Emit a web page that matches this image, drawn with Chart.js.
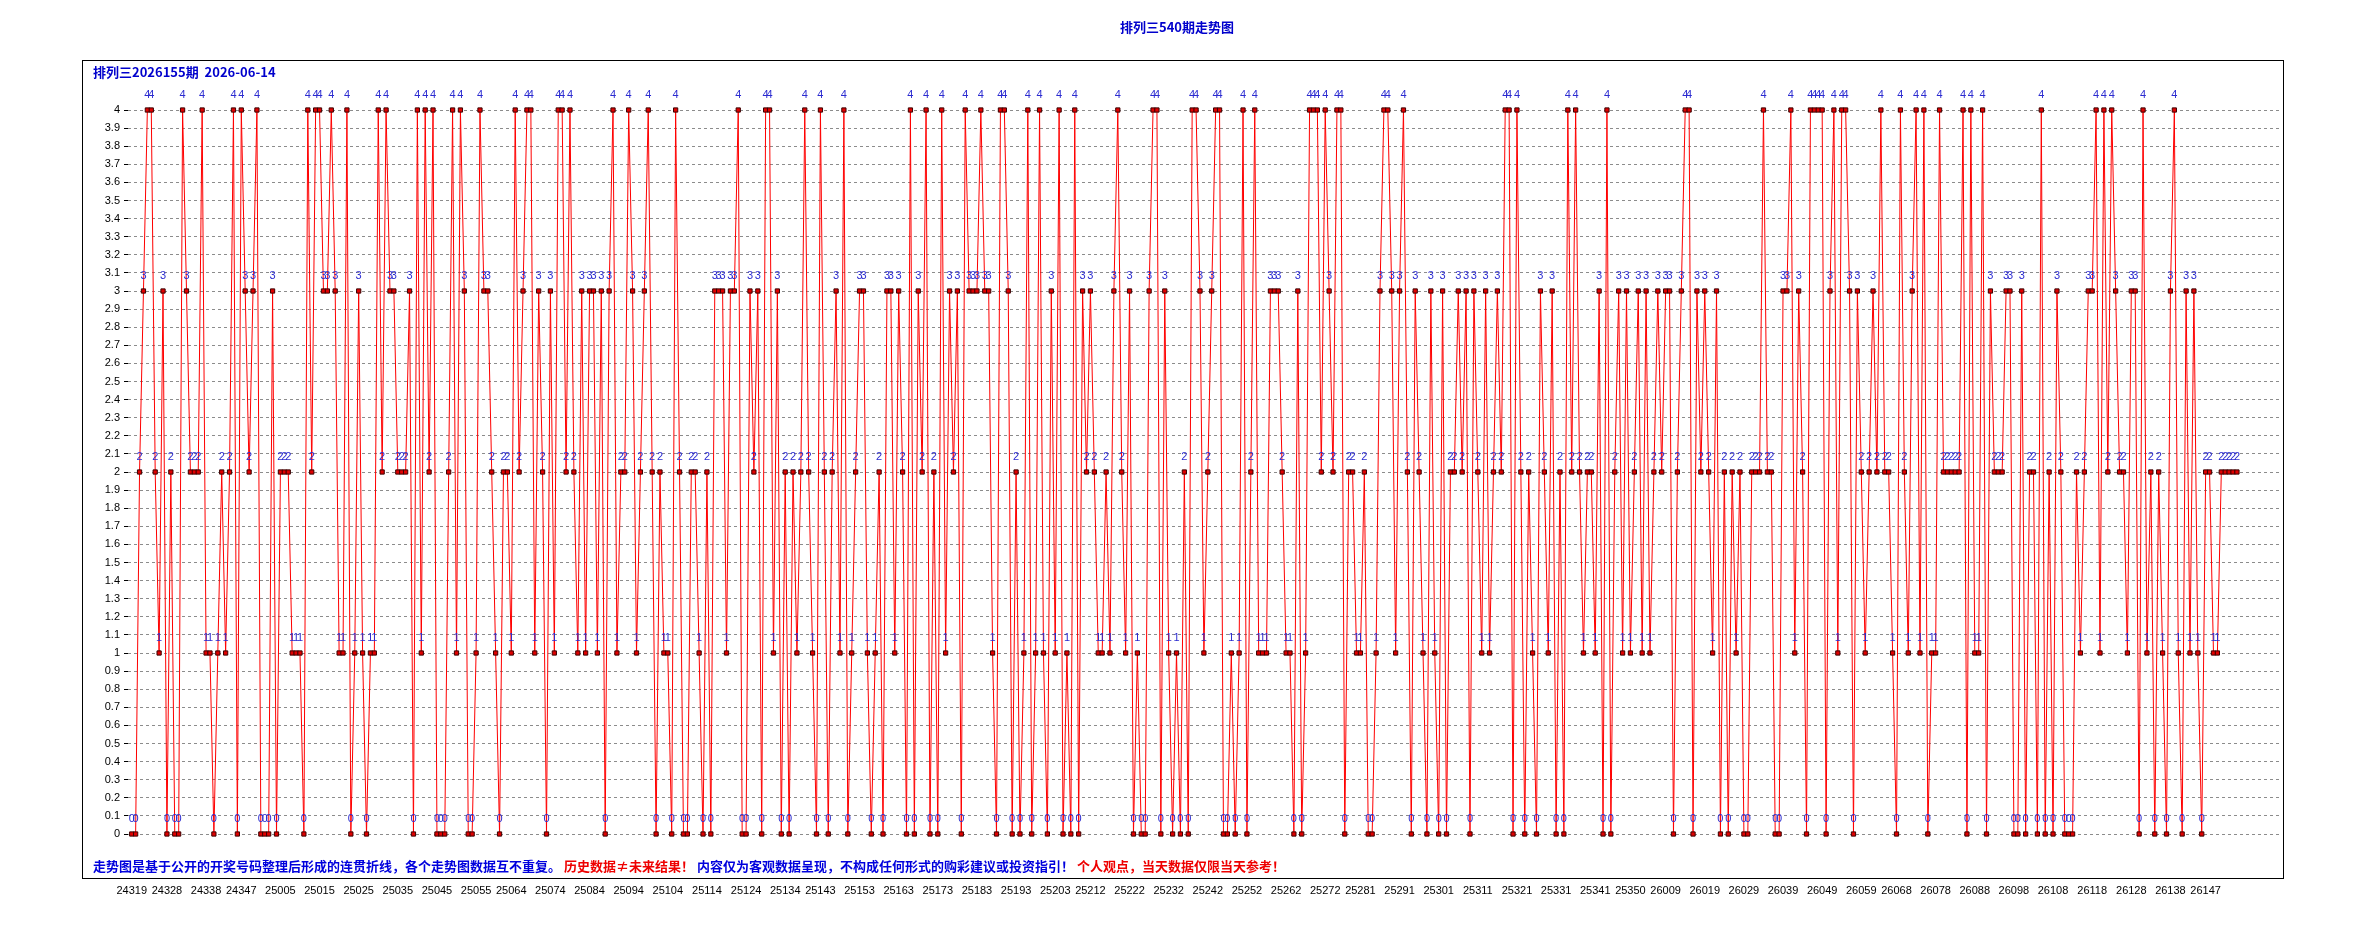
<!DOCTYPE html>
<html>
<head>
<meta charset="utf-8">
<title>排列三540期走势图</title>
<script src="https://cdn.jsdelivr.net/npm/chart.js@4.4.1/dist/chart.umd.min.js"></script>
<style>
    html, body { margin: 0; padding: 0; background: #fff; }
    #wrap { position: relative; width: 2354px; height: 926px; }
</style>
</head>
<body>
<div id="wrap"><canvas id="trendChart" width="2354" height="926"></canvas></div>
<script>
// 期号：2024年 319-352，2025年 1-350，2026年 1-155
const periodRanges = [[24, 319, 352], [25, 1, 350], [26, 1, 155]];
const periods = [];
periodRanges.forEach(r => {
    for (let n = r[1]; n <= r[2]; n++) {
        periods.push(String(r[0]) + String(n).padStart(3, '0'));
    }
});

// 每期的走势值
const values = [
    0,0,2,3,4,4,2,1,3,0, 2,0,0,4,3,2,2,2,4,1, 1,0,1,2,1,2,4,0,4,3, 2,3,4,0,0,0,3,0,2,2,
    2,1,1,1,0,4,2,4,4,3, 3,4,3,1,1,4,0,1,3,1, 0,1,1,4,2,4,3,3,2,2, 2,3,0,4,1,4,2,4,0,0,
    0,2,4,1,4,3,0,0,1,4, 3,3,2,1,0,2,2,1,4,2, 3,4,4,1,3,2,0,3,1,4, 4,2,4,2,1,3,1,3,3,1,
    3,0,3,4,1,2,2,4,3,1, 2,3,4,2,0,2,1,1,0,4, 2,0,0,2,2,1,0,2,0,3, 3,3,1,3,3,4,0,0,3,2,
    3,0,4,4,1,3,0,2,0,2, 1,2,4,2,1,0,4,2,0,2, 3,1,4,0,1,2,3,3,1,0, 1,2,0,3,3,1,3,2,0,4,
    0,3,2,4,0,2,0,4,1,3, 2,3,0,4,3,3,3,4,3,3, 1,0,4,4,3,0,2,0,1,4, 0,1,4,1,0,3,1,4,0,1,
    0,4,0,3,2,3,2,1,1,2, 1,3,4,2,1,3,0,1,0,0, 3,4,4,0,3,1,0,1,0,2, 0,4,4,3,1,2,3,4,4,0,
    0,1,0,1,4,0,2,4,1,1, 1,3,3,3,2,1,1,0,3,0, 1,4,4,4,2,4,3,2,4,4, 0,2,2,1,1,2,0,0,1,3,
    4,4,3,1,3,4,2,0,3,2, 1,0,3,1,0,3,0,2,2,3, 2,3,0,3,2,1,3,1,2,3, 2,4,4,0,4,2,0,2,1,0,
    3,2,1,3,0,2,0,4,2,4, 2,1,2,2,1,3,0,4,0,2, 3,1,3,1,2,3,1,3,1,2, 3,2,3,3,0,2,3,4,4,0,
    3,2,3,2,1,3,0,2,0,2, 1,2,0,0,2,2,2,4,2,2, 0,0,3,3,4,1,3,2,0,4, 4,4,4,0,3,4,1,4,4,3,
    0,3,2,1,2,3,2,4,2,2, 1,0,4,2,1,3,4,1,4,0, 1,1,4,2,2,2,2,2,4,0, 4,1,1,4,0,3,2,2,2,3,
    3,0,0,3,0,2,2,0,4,0, 2,0,3,2,0,0,0,2,1,2, 3,3,4,1,4,2,4,3,2,2, 1,3,3,0,4,1,2,0,2,1,
    0,3,4,1,0,3,1,3,1,0, 2,2,1,1,2,2,2,2,2
];

// 横轴显示的期号
const tickLabels = [
    '24319','24328','24338','24347','25005','25015','25025','25035','25045','25055',
    '25064','25074','25084','25094','25104','25114','25124','25134','25143','25153',
    '25163','25173','25183','25193','25203','25212','25222','25232','25242','25252',
    '25262','25272','25281','25291','25301','25311','25321','25331','25341','25350',
    '26009','26019','26029','26039','26049','26059','26068','26078','26088','26098',
    '26108','26118','26128','26138','26147'
];

// 纵轴刻度
const yTickLabels = [
    '0','0.1','0.2','0.3','0.4','0.5','0.6','0.7','0.8','0.9',
    '1','1.1','1.2','1.3','1.4','1.5','1.6','1.7','1.8','1.9',
    '2','2.1','2.2','2.3','2.4','2.5','2.6','2.7','2.8','2.9',
    '3','3.1','3.2','3.3','3.4','3.5','3.6','3.7','3.8','3.9','4'
];

const chartTitle = '排列三540期走势图';
const subTitle = '排列三2026155期  2026-06-14';
const noteParts = [
    ['走势图是基于公开的开奖号码整理后形成的连贯折线，各个走势图数据互不重复。', '#0000dd'],
    ['历史数据≠未来结果！', '#ee0000'],
    ['内容仅为客观数据呈现，不构成任何形式的购彩建议或投资指引！', '#0000dd'],
    ['个人观点，当天数据仅限当天参考！', '#ee0000']
];

const cjkFont = '"Noto Sans CJK SC", "Noto Sans", sans-serif';

const decorPlugin = {
    id: 'decor',
    beforeDraw(chart) {
        const ctx = chart.ctx;
        ctx.save();
        ctx.fillStyle = '#ffffff';
        ctx.fillRect(0, 0, chart.width, chart.height);
        ctx.strokeStyle = '#000000';
        ctx.lineWidth = 1;
        ctx.strokeRect(82.5, 60.5, 2201, 818);

        ctx.font = 'bold 13px ' + cjkFont;
        ctx.fillStyle = '#0000cc';
        ctx.textBaseline = 'middle';
        ctx.textAlign = 'center';
        ctx.fillText(chartTitle, chart.width / 2, 27);
        ctx.textAlign = 'left';
        ctx.fillText(subTitle, 93, 72);

        // 底部说明文字
        let x = 93;
        noteParts.forEach(p => {
            ctx.fillStyle = p[1];
            ctx.fillText(p[0], x, 866);
            x += ctx.measureText(p[0]).width + 3;
        });
        ctx.restore();
    },
    afterDatasetsDraw(chart) {
        const ctx = chart.ctx;
        const meta = chart.getDatasetMeta(0);
        ctx.save();
        ctx.font = '11px "Liberation Sans", Arial, sans-serif';
        ctx.fillStyle = '#2b2bd0';
        ctx.textAlign = 'center';
        ctx.textBaseline = 'middle';
        meta.data.forEach((pt, i) => {
            ctx.fillText(String(values[i]), pt.x, pt.y - 15);
        });
        ctx.restore();
    }
};

const ctx = document.getElementById('trendChart').getContext('2d');

new Chart(ctx, {
    type: 'line',
    data: {
        datasets: [{
            data: values.map((v, i) => ({ x: i, y: v })),
            borderColor: '#ff0000',
            borderWidth: 1,
            pointStyle: 'rect',
            pointRadius: 3,
            pointBackgroundColor: '#e00000',
            pointBorderColor: '#3a0000',
            pointBorderWidth: 1,
            tension: 0,
            clip: false
        }]
    },
    options: {
        responsive: false,
        animation: false,
        events: [],
        layout: {
            padding: { left: 85, right: 74, top: 110, bottom: 22 }
        },
        plugins: {
            legend: { display: false },
            tooltip: { enabled: false }
        },
        scales: {
            x: {
                type: 'linear',
                min: -0.95,
                max: 549,
                afterBuildTicks: scale => {
                    scale.ticks = tickLabels.map(l => ({ value: periods.indexOf(l) }));
                },
                afterFit: scale => { scale.height = 70; },
                ticks: {
                    callback: v => periods[v],
                    autoSkip: false,
                    maxRotation: 0,
                    padding: 50,
                    color: '#000000',
                    font: { family: '"Liberation Sans", Arial, sans-serif', size: 11 }
                },
                grid: { display: false, drawTicks: false },
                border: { display: false }
            },
            y: {
                min: 0,
                max: 4,
                afterBuildTicks: scale => {
                    scale.ticks = yTickLabels.map(l => ({ value: parseFloat(l) }));
                },
                afterFit: scale => { scale.width = 43; },
                ticks: {
                    callback: (v, i) => yTickLabels[i],
                    autoSkip: false,
                    padding: 4,
                    color: '#000000',
                    font: { family: '"Liberation Sans", Arial, sans-serif', size: 11 }
                },
                grid: {
                    color: '#8c8c8c',
                    lineWidth: 1,
                    drawTicks: true,
                    tickLength: 4,
                    tickColor: '#000000'
                },
                border: { display: false, dash: [3, 3] }
            }
        }
    },
    plugins: [decorPlugin]
});
</script>
</body>
</html>
